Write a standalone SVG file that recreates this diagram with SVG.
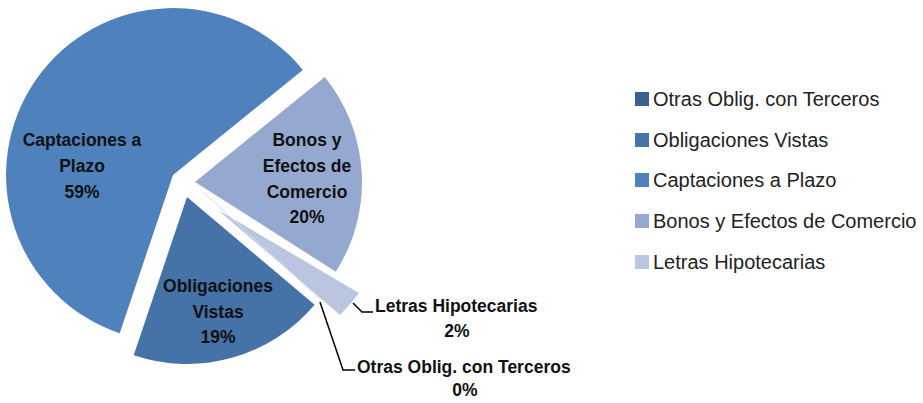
<svg xmlns="http://www.w3.org/2000/svg" width="923" height="403" viewBox="0 0 923 403">
<style>
.lbl{font-family:"Liberation Sans",Arial,sans-serif;font-weight:bold;font-size:17.5px;fill:#111;text-anchor:middle}
.lbs{font-family:"Liberation Sans",Arial,sans-serif;font-weight:bold;font-size:17.5px;fill:#111}
.leg{font-family:"Liberation Sans",Arial,sans-serif;font-size:20px;fill:#222}
.lead{fill:none;stroke:#000;stroke-width:1.5}
</style>
<rect width="923" height="403" fill="#fff"/>
<g id="captaciones">
<path d="M173,175 L119.7,333.3 A167,167 0 1 1 302.8,69.9 Z" fill="#4F81BD"/>
<text class="lbl" x="82" y="146">Captaciones a</text>
<text class="lbl" x="82" y="172">Plazo</text>
<text class="lbl" x="82" y="198">59%</text>
</g>
<g id="bonos">
<path d="M195,182 L324.8,76.9 A167,167 0 0 1 335.8,271.7 Z" fill="#95A9D0"/>
<text class="lbl" x="307" y="146">Bonos y</text>
<text class="lbl" x="307" y="172">Efectos de</text>
<text class="lbl" x="307" y="198">Comercio</text>
<text class="lbl" x="307" y="223">20%</text>
</g>
<g id="obligaciones">
<path d="M187,197 L314.6,304.7 A167,167 0 0 1 133.7,355.3 Z" fill="#4572A7"/>
<text class="lbl" x="218" y="292">Obligaciones</text>
<text class="lbl" x="218" y="318">Vistas</text>
<text class="lbl" x="218" y="343">19%</text>
</g>
<g id="letras">
<path d="M218,210 L359,293 A163,163 0 0 1 340,315 Z" fill="#BAC6E0"/>
<text class="lbs" x="375" y="312">Letras Hipotecarias</text>
<text class="lbl" x="457" y="337">2%</text>
</g>
<g id="otras">
<line x1="203" y1="192" x2="321" y2="300" stroke="#D6DEEC" stroke-width="1"/>
<text class="lbs" x="357" y="373">Otras Oblig. con Terceros</text>
<text class="lbl" x="465" y="396">0%</text>
</g>
<g id="connectors">
<polyline class="lead" points="353,303 362,312 373,312"/>
<polyline class="lead" points="320,302 343,370 355,370"/>
</g>
<g id="legend">
<rect x="635" y="92" width="14" height="14" fill="#3C5F8E"/>
<text class="leg" x="653" y="106">Otras Oblig. con Terceros</text>
<rect x="635" y="133" width="14" height="14" fill="#4673A9"/>
<text class="leg" x="653" y="147">Obligaciones Vistas</text>
<rect x="635" y="173" width="14" height="14" fill="#4F81BD"/>
<text class="leg" x="653" y="187">Captaciones a Plazo</text>
<rect x="635" y="214" width="14" height="14" fill="#95A9D0"/>
<text class="leg" x="653" y="228">Bonos y Efectos de Comercio</text>
<rect x="635" y="255" width="14" height="14" fill="#BAC6E0"/>
<text class="leg" x="653" y="269">Letras Hipotecarias</text>
</g>
</svg>
